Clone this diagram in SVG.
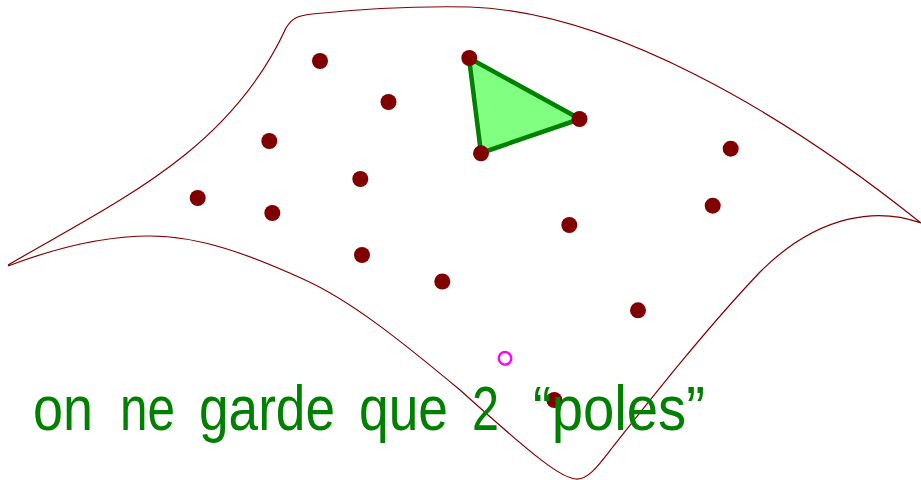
<svg xmlns="http://www.w3.org/2000/svg" width="921" height="480" viewBox="0 0 921 480">
<style>
.surf{fill:none;stroke:#800000;stroke-width:1.2}
.pt{fill:#800000}
.tri{fill:#80ff80;stroke:#008000;stroke-width:4.5;stroke-linejoin:round}
.lbl{fill:#008000;font-family:"Liberation Sans","DejaVu Sans",sans-serif;font-size:63px}
</style>
<rect width="921" height="480" fill="#fff"/>
<g id="surface">
<path class="surf" d="M 8,265 C 120,200 230,150 286,28 C 292,18 297,16 312,14 C 370,8 420,6 470,7 C 610,12 780,110 921,223 C 880,208 820,212 760,272 C 705,330 650,400 612,448 C 598,466 588,480 576,479 C 562,478 540,462 460,390 C 400,340 350,300 303,279 C 250,255 200,236 150,236 C 100,236 50,250 8,266"/>
</g>
<g id="connectors">
<polygon class="tri" points="469,58 580,119 481,153"/>
</g>
<g id="points">
<circle class="pt" cx="320" cy="61" r="8"/>
<circle class="pt" cx="388.5" cy="102" r="8"/>
<circle class="pt" cx="269.3" cy="141" r="8"/>
<circle class="pt" cx="360.3" cy="179" r="8"/>
<circle class="pt" cx="197.7" cy="198" r="8"/>
<circle class="pt" cx="272.3" cy="213" r="8"/>
<circle class="pt" cx="362" cy="255" r="8"/>
<circle class="pt" cx="442.3" cy="281.5" r="8"/>
<circle class="pt" cx="469.3" cy="58" r="8"/>
<circle class="pt" cx="579.5" cy="119" r="8"/>
<circle class="pt" cx="481" cy="153.3" r="8"/>
<circle class="pt" cx="730.7" cy="148.7" r="8"/>
<circle class="pt" cx="712.7" cy="205.7" r="8"/>
<circle class="pt" cx="569.3" cy="225" r="8"/>
<circle class="pt" cx="638" cy="310.3" r="8"/>
<circle class="pt" cx="554.3" cy="400" r="8"/>
</g>
<g id="marker">
<circle cx="505" cy="358.3" r="6.3" fill="none" stroke="#ff00ff" stroke-width="2.4"/>
</g>
<g id="label">
<text class="lbl" y="430"><tspan x="33" textLength="60" lengthAdjust="spacingAndGlyphs">on</tspan><tspan x="120" textLength="55" lengthAdjust="spacingAndGlyphs">ne</tspan><tspan x="199" textLength="136" lengthAdjust="spacingAndGlyphs">garde</tspan><tspan x="359" textLength="89" lengthAdjust="spacingAndGlyphs">que</tspan><tspan x="472" textLength="27" lengthAdjust="spacingAndGlyphs">2</tspan><tspan x="533" textLength="172" lengthAdjust="spacingAndGlyphs">“poles”</tspan></text>
</g>
</svg>
